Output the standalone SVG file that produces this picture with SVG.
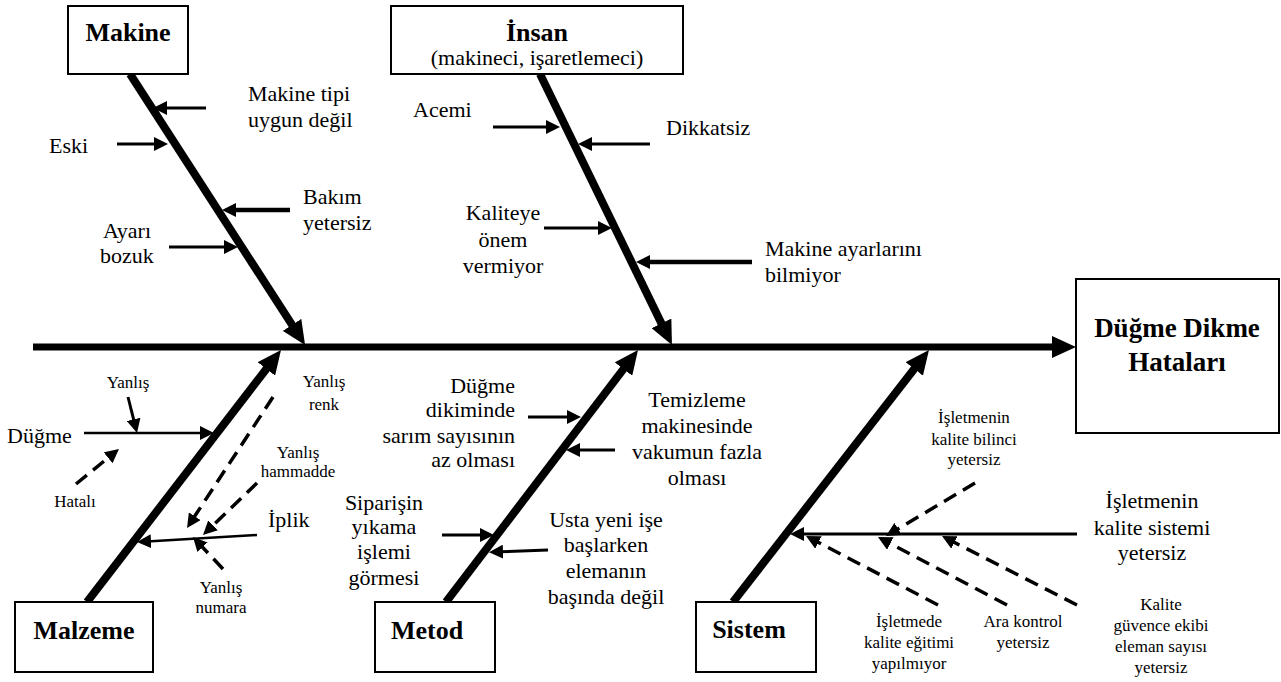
<svg xmlns="http://www.w3.org/2000/svg" width="1281" height="682" viewBox="0 0 1281 682">
<style>
text{font-family:"Liberation Serif","Times New Roman",serif;fill:#000}
.t{font-size:22px}
.s{font-size:17px}
.h{font-size:26px;font-weight:bold}
.r{font-size:27px;font-weight:bold}
.m{text-anchor:middle}
.e{text-anchor:end}
.box{fill:#fff;stroke:#000;stroke-width:2}
.bone{stroke:#000;stroke-width:8;fill:none}
.spine{stroke:#000;stroke-width:7;fill:none}
.a{stroke:#000;stroke-width:3;fill:none}
.ak{stroke:#000;stroke-width:4.5;fill:none}
.thin{stroke:#000;stroke-width:2.5;fill:none}
.d{stroke:#000;stroke-width:3.5;fill:none;stroke-dasharray:14 8}
</style>
<defs>
<marker id="big" markerUnits="userSpaceOnUse" markerWidth="26" markerHeight="22" refX="4" refY="11" orient="auto"><path d="M0,0 L24,11 L0,22 Z" fill="#000"/></marker>
<marker id="sm" markerUnits="userSpaceOnUse" markerWidth="16" markerHeight="14" refX="4" refY="7" orient="auto"><path d="M0,0 L14,7 L0,14 Z" fill="#000"/></marker>
</defs>
<g id="connectors">
<line class="spine" x1="33" y1="347" x2="1056" y2="347" marker-end="url(#big)"/>
<line class="bone" x1="130" y1="74" x2="294.2" y2="328.2" marker-end="url(#big)"/>
<line class="bone" x1="540" y1="74" x2="663.2" y2="327" marker-end="url(#big)"/>
<line class="bone" x1="87" y1="602" x2="268.8" y2="365.8" marker-end="url(#big)"/>
<line class="bone" x1="446" y1="602" x2="625.9" y2="365.9" marker-end="url(#big)"/>
<line class="bone" x1="733" y1="602" x2="916.7" y2="365.8" marker-end="url(#big)"/>
<line class="a" x1="206" y1="108" x2="163" y2="108" marker-end="url(#sm)"/>
<line class="a" x1="117" y1="144" x2="158" y2="144" marker-end="url(#sm)"/>
<line class="ak" x1="290" y1="210" x2="232" y2="210" marker-end="url(#sm)"/>
<line class="a" x1="169" y1="247" x2="228" y2="247" marker-end="url(#sm)"/>
<line class="a" x1="493" y1="127" x2="550" y2="127" marker-end="url(#sm)"/>
<line class="a" x1="650" y1="144" x2="588" y2="144" marker-end="url(#sm)"/>
<line class="a" x1="544" y1="228" x2="602" y2="228" marker-end="url(#sm)"/>
<line class="ak" x1="752" y1="262" x2="646" y2="262" marker-end="url(#sm)"/>
<line class="a" x1="528" y1="417" x2="571" y2="417" marker-end="url(#sm)"/>
<line class="a" x1="615" y1="450" x2="576" y2="450" marker-end="url(#sm)"/>
<line class="a" x1="442" y1="535" x2="484" y2="535" marker-end="url(#sm)"/>
<line class="a" x1="548" y1="550" x2="499" y2="551.8" marker-end="url(#sm)"/>
<line class="thin" x1="84" y1="433" x2="204" y2="433" marker-end="url(#sm)"/>
<line class="a" x1="128" y1="397" x2="134.6" y2="423.3" marker-end="url(#sm)"/>
<line class="d" x1="76" y1="484" x2="111.2" y2="455.3" marker-end="url(#sm)"/>
<line class="d" x1="273" y1="397" x2="192.5" y2="519.6" marker-end="url(#sm)"/>
<line class="d" x1="257" y1="483" x2="210.2" y2="528.1" marker-end="url(#sm)"/>
<line class="thin" x1="257" y1="535" x2="147" y2="541.4" marker-end="url(#sm)"/>
<line class="d" x1="223" y1="569" x2="199.8" y2="544.3" marker-end="url(#sm)"/>
<line class="a" x1="1077" y1="534" x2="800" y2="534" marker-end="url(#sm)"/>
<line class="d" x1="975" y1="483" x2="894.6" y2="530.9" marker-end="url(#sm)"/>
<line class="d" x1="938" y1="605" x2="814.9" y2="540.6" marker-end="url(#sm)"/>
<line class="d" x1="1007" y1="605" x2="886.8" y2="541.7" marker-end="url(#sm)"/>
<line class="d" x1="1077" y1="605" x2="950.9" y2="540.6" marker-end="url(#sm)"/>
</g>
<g id="result">
<rect class="box" x="1076" y="279" width="203" height="154"/>
<text class="r m" x="1177" y="337">Düğme Dikme</text>
<text class="r m" x="1177" y="371">Hataları</text>
</g>
<g id="makine">
<rect class="box" x="68" y="6" width="120" height="68"/>
<text class="h m" x="128" y="41">Makine</text>
</g>
<g id="insan">
<rect class="box" x="391" y="6" width="292" height="68"/>
<text class="h m" x="537" y="41">İnsan</text>
<text class="t m" x="537" y="65">(makineci, işaretlemeci)</text>
</g>
<g id="malzeme">
<rect class="box" x="15" y="602" width="138" height="70"/>
<text class="h m" x="84" y="639">Malzeme</text>
</g>
<g id="metod">
<rect class="box" x="375" y="602" width="120" height="70"/>
<text class="h m" x="427" y="639">Metod</text>
</g>
<g id="sistem">
<rect class="box" x="696" y="602" width="120" height="70"/>
<text class="h m" x="749" y="638">Sistem</text>
</g>
<g id="labels-makine">
<text class="t" x="248" y="101">Makine tipi</text>
<text class="t" x="248" y="127">uygun değil</text>
<text class="t" x="49" y="153">Eski</text>
<text class="t" x="303" y="204">Bakım</text>
<text class="t" x="303" y="230">yetersiz</text>
<text class="t m" x="127" y="238">Ayarı</text>
<text class="t m" x="127" y="263">bozuk</text>
</g>
<g id="labels-insan">
<text class="t" x="413" y="117">Acemi</text>
<text class="t" x="666" y="135">Dikkatsiz</text>
<text class="t m" x="503" y="220">Kaliteye</text>
<text class="t m" x="503" y="247">önem</text>
<text class="t m" x="503" y="273">vermiyor</text>
<text class="t" x="765" y="256">Makine ayarlarını</text>
<text class="t" x="765" y="282">bilmiyor</text>
</g>
<g id="labels-malzeme">
<text class="t" x="7" y="443">Düğme</text>
<text class="s m" x="128" y="388">Yanlış</text>
<text class="s m" x="75" y="507">Hatalı</text>
<text class="s m" x="324" y="387">Yanlış</text>
<text class="s m" x="324" y="410">renk</text>
<text class="s m" x="298" y="458">Yanlış</text>
<text class="s m" x="298" y="477">hammadde</text>
<text class="t" x="268" y="527">İplik</text>
<text class="s m" x="221" y="593">Yanlış</text>
<text class="s m" x="221" y="613">numara</text>
</g>
<g id="labels-metod">
<text class="t e" x="515" y="393">Düğme</text>
<text class="t e" x="515" y="417">dikiminde</text>
<text class="t e" x="515" y="443">sarım sayısının</text>
<text class="t e" x="515" y="467">az olması</text>
<text class="t m" x="697" y="407">Temizleme</text>
<text class="t m" x="697" y="433">makinesinde</text>
<text class="t m" x="697" y="459">vakumun fazla</text>
<text class="t m" x="697" y="485">olması</text>
<text class="t m" x="384" y="510">Siparişin</text>
<text class="t m" x="384" y="534">yıkama</text>
<text class="t m" x="384" y="559">işlemi</text>
<text class="t m" x="384" y="585">görmesi</text>
<text class="t m" x="606" y="527">Usta yeni işe</text>
<text class="t m" x="606" y="552">başlarken</text>
<text class="t m" x="606" y="578">elemanın</text>
<text class="t m" x="606" y="604">başında değil</text>
</g>
<g id="labels-sistem">
<text class="s m" x="974" y="423">İşletmenin</text>
<text class="s m" x="974" y="445">kalite bilinci</text>
<text class="s m" x="974" y="465">yetersiz</text>
<text class="t m" x="1152" y="508">İşletmenin</text>
<text class="t m" x="1152" y="535">kalite sistemi</text>
<text class="t m" x="1152" y="560">yetersiz</text>
<text class="s m" x="909" y="627">İşletmede</text>
<text class="s m" x="909" y="648">kalite eğitimi</text>
<text class="s m" x="909" y="669">yapılmıyor</text>
<text class="s m" x="1023" y="627">Ara kontrol</text>
<text class="s m" x="1023" y="648">yetersiz</text>
<text class="s m" x="1161" y="610">Kalite</text>
<text class="s m" x="1161" y="631">güvence ekibi</text>
<text class="s m" x="1161" y="652">eleman sayısı</text>
<text class="s m" x="1161" y="673">yetersiz</text>
</g>
</svg>
